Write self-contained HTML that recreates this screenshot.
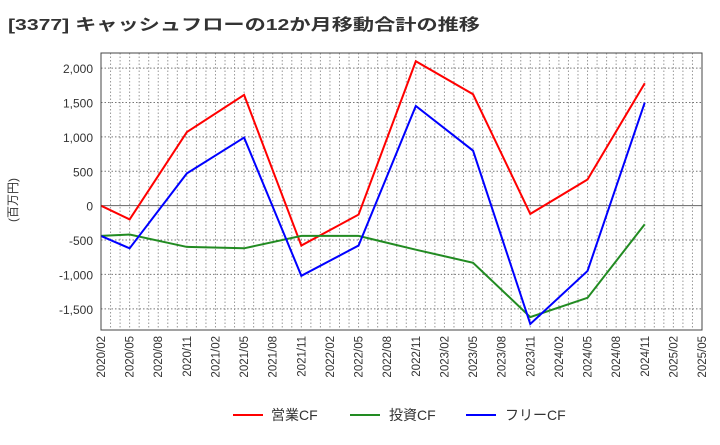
<!DOCTYPE html>
<html><head><meta charset="utf-8"><style>
body{margin:0;background:#fff;}
text{font-family:"Liberation Sans","Noto Sans CJK JP",sans-serif;}
</style></head><body>
<svg id="chart" width="720" height="440" xmlns="http://www.w3.org/2000/svg">
<text x="8" y="30" font-size="16" font-weight="bold" fill="#333" textLength="472" lengthAdjust="spacingAndGlyphs">[3377]  キャッシュフローの12か月移動合計の推移</text>
<text transform="translate(17,200) rotate(-90)" text-anchor="middle" font-size="12" fill="#333">(百万円)</text>
<g id="grid"></g><g id="axes"></g><g id="series"></g>
<rect x="101" y="53" width="601" height="277" fill="none" stroke="#444" stroke-width="1"/>
<g>
<line x1="233" y1="415" x2="263" y2="415" stroke="#ff0000" stroke-width="2"/><text x="271" y="420" font-size="14" fill="#333">営業CF</text>
<line x1="350" y1="415" x2="380" y2="415" stroke="#228B22" stroke-width="2"/><text x="389" y="420" font-size="14" fill="#333">投資CF</text>
<line x1="466" y1="415" x2="496" y2="415" stroke="#0000ff" stroke-width="2"/><text x="505" y="420" font-size="14" fill="#333">フリーCF</text>
</g>
</svg>
<script>
const categories=["2020/02","2020/05","2020/11","2021/05","2021/11","2022/05","2022/11","2023/05","2023/11","2024/05","2024/11"];
const operatingCF=[0,-200,1070,1610,-580,-130,2100,1620,-120,380,1780];
const investingCF=[-440,-420,-600,-620,-440,-440,-640,-830,-1620,-1340,-270];
const freeCF=[-440,-620,470,990,-1020,-580,1450,800,-1720,-950,1500];
const xTickLabels=["2020/02","2020/05","2020/08","2020/11","2021/02","2021/05","2021/08","2021/11","2022/02","2022/05","2022/08","2022/11","2023/02","2023/05","2023/08","2023/11","2024/02","2024/05","2024/08","2024/11","2025/02","2025/05"];
const yTicks=[-1500,-1000,-500,0,500,1000,1500,2000];
const NS="http://www.w3.org/2000/svg";
const L=101,R=702,T=53,B=330,yMin=-1808,yMax=2220;
function monthIdx(s){const [y,m]=s.split("/").map(Number);return (y-2020)*12+(m-2);}
const totalMonths=monthIdx("2025/05");
function xs(s){return L+(R-L)*monthIdx(s)/totalMonths;}
function ys(v){return B-(B-T)*(v-yMin)/(yMax-yMin);}
function mk(tag,attrs,parent){const e=document.createElementNS(NS,tag);for(const k in attrs)e.setAttribute(k,attrs[k]);parent.appendChild(e);return e;}
const grid=document.getElementById("grid"),axes=document.getElementById("axes"),series=document.getElementById("series");
for(let i=1;i<totalMonths;i++){const x=L+(R-L)*i/totalMonths;
const g=mk("line",{x1:x,y1:T,x2:x,y2:B,stroke:"#999","stroke-dasharray":"1.5,2","stroke-width":1},grid);

}
yTicks.forEach(v=>{const y=ys(v);
const g=mk("line",{x1:L,y1:y,x2:R,y2:y,stroke:v===0?"#666":"#777","stroke-dasharray":v===0?"":"1.5,2","stroke-width":1},grid);


const t=mk("text",{x:L-8,y:y+5,"text-anchor":"end","font-size":"12",fill:"#333"},axes);t.textContent=v.toLocaleString("en-US");

});
xTickLabels.forEach(s=>{const x=xs(s);
const t=mk("text",{transform:`translate(${x+4},${B+6}) rotate(-90)`,"text-anchor":"end","font-size":"11.5",fill:"#333"},axes);t.textContent=s;

});
[[operatingCF,"#ff0000","operating-cf-line"],[investingCF,"#228B22","investing-cf-line"],[freeCF,"#0000ff","free-cf-line"]].forEach(([d,c,n])=>{
const p=mk("polyline",{points:d.map((v,i)=>xs(categories[i])+","+ys(v)).join(" "),fill:"none",stroke:c,"stroke-width":2},series);

});
</script>
</body></html>
